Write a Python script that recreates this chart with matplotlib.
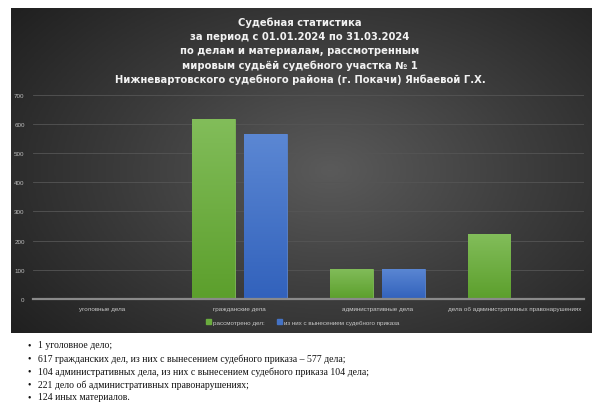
import numpy as np
from matplotlib import pyplot as plt
from matplotlib.colors import LinearSegmentedColormap
from matplotlib.patches import Patch

# данные с графика
categories = ["уголовные дела", "гражданские дела", "административные дела",
              "дела об административных правонарушениях"]
considered = [1, 617, 104, 221]
with_order = [0, 565, 104, 0]
series_names = ["рассмотрено дел:", "из них с вынесением судебного приказа"]
title_lines = [
    "Судебная статистика",
    "за период с 01.01.2024 по 31.03.2024",
    "по делам и материалам, рассмотренным",
    "мировым судьёй судебного участка № 1",
    "Нижневартовского судебного района (г. Покачи) Янбаевой Г.Х.",
]
bullets = [
    "1 уголовное дело;",
    "617 гражданских дел, из них с вынесением судебного приказа – 577 дела;",
    "104 административных дела, из них с вынесением судебного приказа 104 дела;",
    "221 дело об административных правонарушениях;",
    "124 иных материалов.",
]

W, H = 600, 410
NARROW = ["Liberation Sans Narrow", "Liberation Sans", "DejaVu Sans"]


def fx(px):
    return px / W


def fy(py):
    return 1 - py / H


def gradient_bars(ax, bars, top, bottom):
    cmap = LinearSegmentedColormap.from_list("g", [bottom, top])
    grad = np.linspace(0, 1, 64).reshape(-1, 1)
    for b in bars:
        x0, w, h = b.get_x(), b.get_width(), b.get_height()
        if h <= 0:
            continue
        im = ax.imshow(grad, extent=[x0, x0 + w, 0, h], origin="lower",
                       cmap=cmap, aspect="auto", zorder=3)
        im.set_clip_path(b)


def main():
    fig = plt.figure(figsize=(6, 4.1), dpi=100)
    fig.patch.set_facecolor("white")

    # тёмная подложка с радиальным градиентом
    bg = fig.add_axes([fx(11), fy(334), fx(581), 325 / H])
    yy, xx = np.mgrid[0:1:200j, 0:1:300j]
    r = np.sqrt(((xx - 0.55) / 0.7) ** 2 + ((yy - 0.5) / 0.8) ** 2)
    bg_cmap = LinearSegmentedColormap.from_list("bg", ["#5a5a5a", "#3c3c3c", "#202020"])
    bg.imshow(np.clip(r, 0, 1), cmap=bg_cmap, aspect="auto", extent=[0, 1, 0, 1])
    bg.set_axis_off()

    ax = fig.add_axes([fx(33), fy(300), fx(584 - 33), (300 - 95.7) / H])
    ax.patch.set_alpha(0)
    x = np.arange(len(categories))
    w = 0.31
    b1 = ax.bar(x - 0.19, considered, w, color="#6aab3e", edgecolor="#7fbb57",
                linewidth=0.6, zorder=2)
    b2 = ax.bar(x + 0.19, with_order, w, color="#4472c4", edgecolor="#5a84cf",
                linewidth=0.6, zorder=2)
    gradient_bars(ax, b1, "#82bd5a", "#5c9f2c")
    gradient_bars(ax, b2, "#5b87d3", "#3262bc")

    ax.set_xlim(-0.5, len(categories) - 0.5)
    ax.set_ylim(0, 700)
    ax.set_yticks(range(0, 701, 100))
    ax.grid(axis="y", color="#555555", linewidth=0.6, zorder=0)
    ax.set_axisbelow(True)
    for s in ["top", "right", "left"]:
        ax.spines[s].set_visible(False)
    ax.spines["bottom"].set_color("#8a8a8a")
    ax.spines["bottom"].set_linewidth(1.6)
    ax.spines["bottom"].set_zorder(4)
    ax.set_xticks(x)
    ax.set_xticklabels(categories, fontsize=4.5, color="#c8c8c8", family=NARROW)
    ax.tick_params(axis="x", length=0, pad=5)
    ax.tick_params(axis="y", length=0, pad=6)
    for t in ax.get_yticklabels():
        t.set_fontsize(4.5)
        t.set_color("#bdbdbd")
        t.set_family(NARROW)

    handles = [Patch(color="#6aab3e"), Patch(color="#4472c4")]
    fig.legend(handles, series_names, loc="center", bbox_to_anchor=(fx(303), fy(323)),
               ncol=2, frameon=False, prop={"size": 4.5, "family": NARROW},
               labelcolor="#c8c8c8", handlelength=0.8, handleheight=0.8,
               handletextpad=0.3, columnspacing=2.0)

    for i, line in enumerate(title_lines):
        fig.text(0.5, fy(22.7 + 14.3 * i), line, ha="center", va="center",
                 fontsize=7.2, fontweight="bold", color="#f2f2f2")

    for i, line in enumerate(bullets):
        y = fy(346 + 13 * i)
        fig.text(fx(28), y, "•", ha="left", va="center", fontsize=7,
                 family="Liberation Serif", color="#111111")
        fig.text(fx(38), y, line, ha="left", va="center", fontsize=7,
                 family="Liberation Serif", color="#111111")

    fig.savefig("out.png", dpi=100)


if __name__ == "__main__":
    main()
